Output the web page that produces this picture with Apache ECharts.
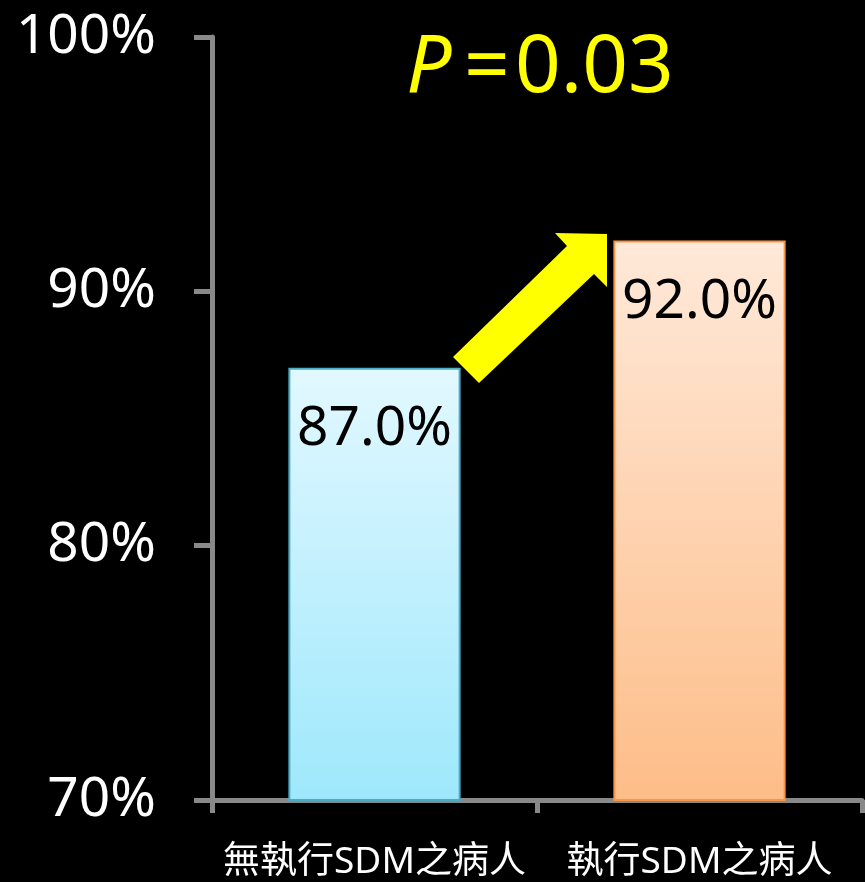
<!DOCTYPE html>
<html>
<head>
<meta charset="utf-8">
<script src="https://cdn.jsdelivr.net/npm/echarts@6/dist/echarts.min.js"></script>
<style>
  html, body { margin: 0; padding: 0; background: #000; }
  #chart { width: 865px; height: 882px; }
</style>
</head>
<body>
<div id="chart"></div>
<script>
// Share of patients, by whether shared decision making (SDM) was carried out
const categories = ['無執行SDM之病人', '執行SDM之病人'];
const rates = [87.0, 92.0];
const yTicks = { min: 70, max: 100, step: 10 };
const pValueText = '0.03';

const FONT = '"Noto Sans", "Noto Sans CJK TC", sans-serif';
const AXIS_GREY = '#898989';
const YELLOW = '#FFFF00';

const barStyles = [
  { top: '#E2F8FF', bottom: '#9EE8FC', border: '#4BACC6' },
  { top: '#FFE9D9', bottom: '#FDBD88', border: '#F79646' }
];

const chart = echarts.init(document.getElementById('chart'));

const titleRich = {
  p: { fontFamily: FONT, fontSize: 80, fontStyle: 'italic', fontWeight: 'normal', color: YELLOW },
  gap: { fontFamily: FONT, fontSize: 48, fontWeight: 'normal', color: YELLOW },
  gap2: { fontFamily: FONT, fontSize: 20, fontWeight: 'normal', color: YELLOW },
  v: { fontFamily: FONT, fontSize: 80, fontWeight: 'normal', color: YELLOW }
};

chart.setOption({
  backgroundColor: '#000',
  animation: false,
  grid: { left: 212, right: 3, top: 37, bottom: 82, containLabel: false },
  title: {
    text: '{p|P}{gap| }{v|=}{gap2| }{v|' + pValueText + '}',
    left: 535,
    top: 24,
    textAlign: 'center',
    textStyle: { rich: titleRich }
  },
  xAxis: {
    type: 'category',
    data: categories,
    axisLine: { lineStyle: { color: AXIS_GREY, width: 5 } },
    axisTick: { show: true, length: 13, lineStyle: { color: AXIS_GREY, width: 5 } },
    axisLabel: {
      interval: 0,
      color: '#fff',
      fontFamily: FONT,
      fontSize: 37,
      margin: 44
    }
  },
  yAxis: {
    type: 'value',
    min: yTicks.min,
    max: yTicks.max,
    interval: yTicks.step,
    splitLine: { show: false },
    axisLine: { show: true, lineStyle: { color: AXIS_GREY, width: 5 } },
    axisTick: { show: true, length: 18, lineStyle: { color: AXIS_GREY, width: 5 } },
    axisLabel: {
      color: '#fff',
      fontFamily: FONT,
      fontSize: 55,
      margin: 56,
      formatter: v => v + '%'
    }
  },
  series: [{
    type: 'bar',
    barWidth: '53%',
    data: rates.map((v, i) => ({
      value: v,
      itemStyle: {
        color: new echarts.graphic.LinearGradient(0, 0, 0, 1, [
          { offset: 0, color: barStyles[i].top },
          { offset: 1, color: barStyles[i].bottom }
        ]),
        borderColor: barStyles[i].border,
        borderWidth: 2
      }
    })),
    label: {
      show: true,
      position: ['50%', 62],
      align: 'center',
      verticalAlign: 'middle',
      color: '#000',
      fontFamily: FONT,
      fontSize: 55,
      formatter: p => p.value.toFixed(1) + '%'
    }
  }],
  // Yellow arrow pointing from the first bar up to the second
  graphic: [{
    type: 'polygon',
    shape: {
      points: [
        [453, 357], [567, 246], [555, 233], [607, 234],
        [607, 287], [594, 274], [479, 383]
      ]
    },
    style: { fill: YELLOW },
    z: 10
  }]
});
</script>
</body>
</html>
